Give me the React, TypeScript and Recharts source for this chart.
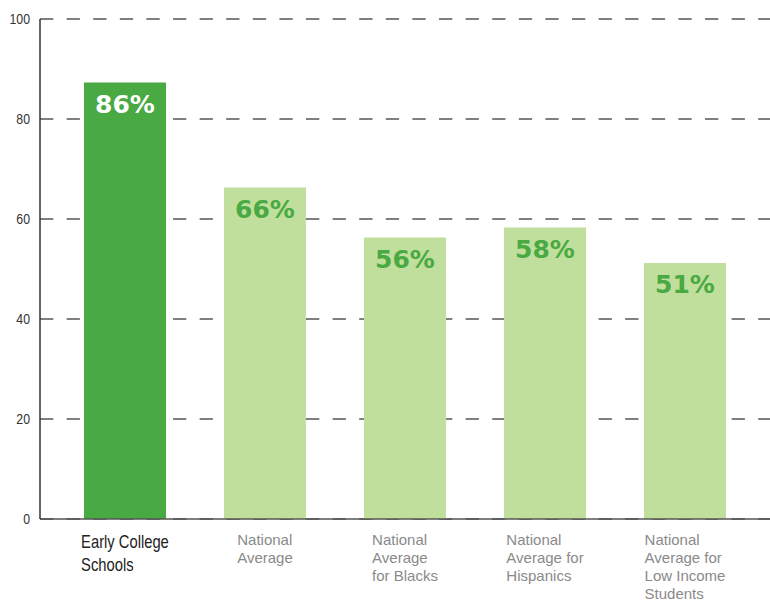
import { BarChart, Bar, XAxis, YAxis, CartesianGrid, Cell, LabelList } from 'recharts'

const categories = [
  'Early College\nSchools',
  'National\nAverage',
  'National\nAverage\nfor Blacks',
  'National\nAverage for\nHispanics',
  'National\nAverage for\nLow Income\nStudents',
]
const rates = [87.3, 66.3, 56.3, 58.3, 51.2]
const rateLabels = ['86%', '66%', '56%', '58%', '51%']
const yTicks = [0, 20, 40, 60, 80, 100]

const DARK_GREEN = '#49a942'
const LIGHT_GREEN = '#c1df9c'
const NARROW = 0.82

const chartData = categories.map((name, i) => ({
  name,
  rate: rates[i],
  label: rateLabels[i],
}))

let canvasCtx: CanvasRenderingContext2D | null = null
function measure(text: string, font: string) {
  if (!canvasCtx) canvasCtx = document.createElement('canvas').getContext('2d')
  if (!canvasCtx) return text.length * 7
  canvasCtx.font = font
  return canvasCtx.measureText(text).width
}

function XTick(props: any) {
  const { x, payload, index } = props
  const lines: string[] = String(payload.value).split('\n')
  const first = index === 0
  const family = '"Liberation Sans", Arial, sans-serif'
  const size = first ? 18 : 15
  const sx = first ? NARROW : 1
  const font = `${size}px ${family}`
  const w = Math.max(...lines.map(l => measure(l, font))) * sx
  const lineH = first ? 23 : 18
  const base = first ? 548 : 545
  return (
    <g>
      {lines.map((l, i) => (
        <text
          key={i}
          transform={`translate(${x - w / 2},${base + i * lineH}) scale(${sx},1)`}
          textAnchor="start"
          fontFamily={family}
          fontSize={size}
          fill={first ? '#222' : '#8a8a8a'}
        >
          {l}
        </text>
      ))}
    </g>
  )
}

function YTick(props: any) {
  const { y, payload } = props
  return (
    <text
      transform={`translate(30,${y + 5}) scale(${NARROW},1)`}
      textAnchor="end"
      fontFamily='"Liberation Sans", Arial, sans-serif'
      fontSize={15}
      fill="#333"
    >
      {payload.value}
    </text>
  )
}

function BarText(props: any) {
  const { x, y, width, index } = props
  return (
    <text
      x={x + width / 2}
      y={y + 30}
      textAnchor="middle"
      fontFamily='"DejaVu Sans", sans-serif'
      fontWeight="bold"
      fontSize={25}
      fill={index === 0 ? '#fff' : DARK_GREEN}
    >
      {rateLabels[index]}
    </text>
  )
}

export default function App() {
  return (
    <div style={{ position: 'absolute', left: 0, top: 0, width: 770, height: 602, background: '#fff' }}>
      <BarChart
        width={770}
        height={602}
        data={chartData}
        margin={{ top: 19, right: 0, bottom: 0, left: 0 }}
        barCategoryGap={0}
      >
        <CartesianGrid
          vertical={false}
          stroke="#555"
          strokeWidth={1.5}
          strokeDasharray="13.3 13.3"
        />
        <XAxis
          dataKey="name"
          height={83}
          padding={{ left: 15, right: 15 }}
          axisLine={{ stroke: '#555', strokeWidth: 1.5 }}
          tickLine={false}
          interval={0}
          tick={<XTick />}
        />
        <YAxis
          width={40}
          domain={[0, 100]}
          ticks={yTicks}
          axisLine={{ stroke: '#333', strokeWidth: 1.5 }}
          tickLine={false}
          tick={<YTick />}
        />
        <Bar dataKey="rate" barSize={82} isAnimationActive={false}>
          {chartData.map((d, i) => (
            <Cell key={d.name} fill={i === 0 ? DARK_GREEN : LIGHT_GREEN} />
          ))}
          <LabelList dataKey="label" content={<BarText />} />
        </Bar>
      </BarChart>
    </div>
  )
}
